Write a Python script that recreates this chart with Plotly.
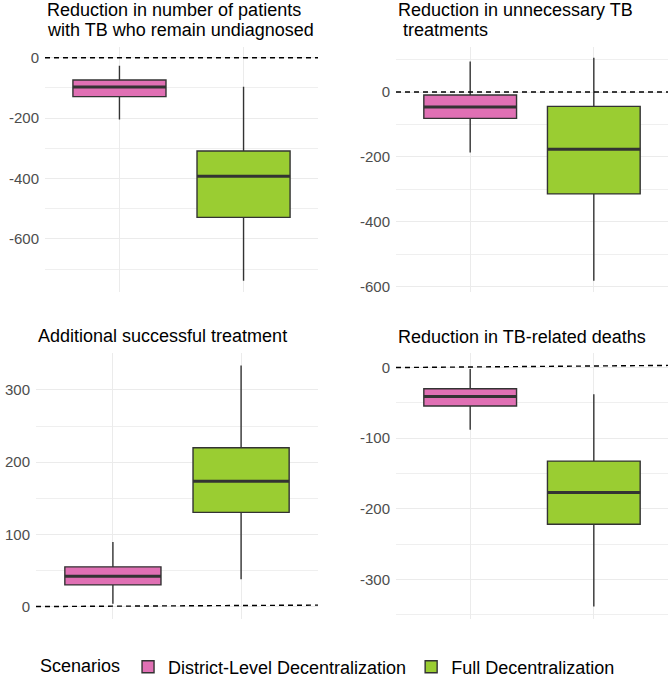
import plotly.graph_objects as go
from plotly.subplots import make_subplots

# ---- data ----
scenarios = ["District-Level Decentralization", "Full Decentralization"]
scenario_colors = ["#E070B4", "#9ACD32"]
box_pos = [1, 2]

# panel titles, one list entry per text line
panel_titles = [
    ["Reduction in number of patients", "with TB who remain undiagnosed"],
    ["Reduction in unnecessary TB", "\u00a0treatments"],
    ["Additional successful treatment"],
    ["Reduction in TB-related deaths"],
]

# box statistics per panel: [District-Level, Full]
undiag_lower = [-205, -739]
undiag_q1 = [-129, -529]
undiag_med = [-97, -393]
undiag_q3 = [-74, -309]
undiag_upper = [-27, -96]

unnec_lower = [-186, -582]
unnec_q1 = [-81, -314]
unnec_med = [-46, -176]
unnec_q3 = [-9, -44]
unnec_upper = [94, 106]

success_lower = [4, 38]
success_q1 = [30, 130.5]
success_med = [42, 173.5]
success_q3 = [55, 220]
success_upper = [89.5, 334]

deaths_lower = [-88, -338.5]
deaths_q1 = [-54.5, -222]
deaths_med = [-41, -177]
deaths_q3 = [-30, -132.5]
deaths_upper = [-2, -38]

# dashed reference line (start / end value across the panel)
ref_start = [0, 0, 0, 0]
ref_end = [0, 0, 2, 3]

tick_vals = [
    [0, -200, -400, -600],
    [0, -200, -400, -600],
    [0, 100, 200, 300],
    [0, -100, -200, -300],
]
tick_text = [
    ["0", "-200", "-400", "-600"],
    ["0", "-200", "-400", "-600"],
    ["0", "100", "200", "300"],
    ["0", "-100", "-200", "-300"],
]
minor_step = [100, 100, 50, 50]

panels = [
    (undiag_lower, undiag_q1, undiag_med, undiag_q3, undiag_upper),
    (unnec_lower, unnec_q1, unnec_med, unnec_q3, unnec_upper),
    (success_lower, success_q1, success_med, success_q3, success_upper),
    (deaths_lower, deaths_q1, deaths_med, deaths_q3, deaths_upper),
]

# ---- layout geometry (pixels) ----
W, H = 670, 686
panel_px = [
    (45, 318, 47, 295),
    (396, 668, 47, 295),
    (36, 318, 357, 625),
    (396, 668, 357, 625),
]
title_line_px = [[10.5, 30], [10.5, 30], [339.5], [340]]

FONT = "Liberation Sans, Arial, sans-serif"
BOX_W = 0.75
XR = [0.4, 2.6]

fig = make_subplots(rows=2, cols=2)

for p, (lo, q1, med, q3, up) in enumerate(panels):
    r, c = p // 2 + 1, p % 2 + 1
    fig.add_trace(go.Scatter(x=XR, y=[ref_start[p], ref_end[p]], mode="lines",
                             line=dict(color="black", width=1.4, dash="5px,4px"),
                             showlegend=False, hoverinfo="skip"), row=r, col=c)
    for i, name in enumerate(scenarios):
        fig.add_trace(go.Box(
            x=[box_pos[i]], q1=[q1[i]], median=[med[i]], q3=[q3[i]],
            lowerfence=[lo[i]], upperfence=[up[i]],
            width=BOX_W, whiskerwidth=0, fillcolor=scenario_colors[i],
            line=dict(color="#333333", width=1.4), boxpoints=False,
            name=name, legendgroup=name, showlegend=(p == 0),
            hoverinfo="skip"), row=r, col=c)
        fig.add_trace(go.Scatter(
            x=[box_pos[i] - BOX_W / 2, box_pos[i] + BOX_W / 2], y=[med[i], med[i]],
            mode="lines", line=dict(color="#333333", width=3),
            showlegend=False, hoverinfo="skip"), row=r, col=c)

    allv = lo + up + [ref_start[p], ref_end[p]]
    vmin, vmax = min(allv), max(allv)
    pad = 0.05 * (vmax - vmin)
    x0, x1, y0, y1 = panel_px[p]
    ax_idx = "" if p == 0 else str(p + 1)
    fig.layout["xaxis" + ax_idx].update(
        domain=[x0 / W, x1 / W], range=XR, tickmode="array", tickvals=box_pos,
        ticktext=["", ""], showgrid=True, gridcolor="#EBEBEB", gridwidth=1.3,
        zeroline=False, showline=False, ticks="", fixedrange=True)
    fig.layout["yaxis" + ax_idx].update(
        domain=[1 - y1 / H, 1 - y0 / H], range=[vmin - pad, vmax + pad],
        tickmode="array", tickvals=tick_vals[p], ticktext=tick_text[p],
        showgrid=True, gridcolor="#EBEBEB", gridwidth=1.3, zeroline=False,
        showline=False, ticks="", ticklabelstandoff=5,
        tickfont=dict(family=FONT, size=15, color="#4D4D4D"),
        minor=dict(tickmode="linear", tick0=0, dtick=minor_step[p], showgrid=True,
                   gridcolor="#EFEFEF", gridwidth=0.8),
        fixedrange=True)
    for k, line in enumerate(panel_titles[p]):
        fig.add_annotation(text=line, xref="paper", yref="paper",
                           x=x0 / W, y=1 - title_line_px[p][k] / H, xanchor="left",
                           yanchor="middle", align="left", showarrow=False,
                           font=dict(family=FONT, size=18, color="black"))

fig.update_layout(
    width=W, height=H, margin=dict(l=0, r=0, t=0, b=0),
    paper_bgcolor="white", plot_bgcolor="white", boxmode="overlay",
    font=dict(family=FONT, color="black"),
    legend=dict(orientation="h", x=38 / W, xanchor="left", y=1 - 674 / H,
                yanchor="middle", title=dict(text="Scenarios", side="left",
                                             font=dict(size=18, family=FONT)),
                font=dict(size=18, family=FONT, color="black"),
                itemclick=False, itemdoubleclick=False),
)

fig.write_html("out.html")
